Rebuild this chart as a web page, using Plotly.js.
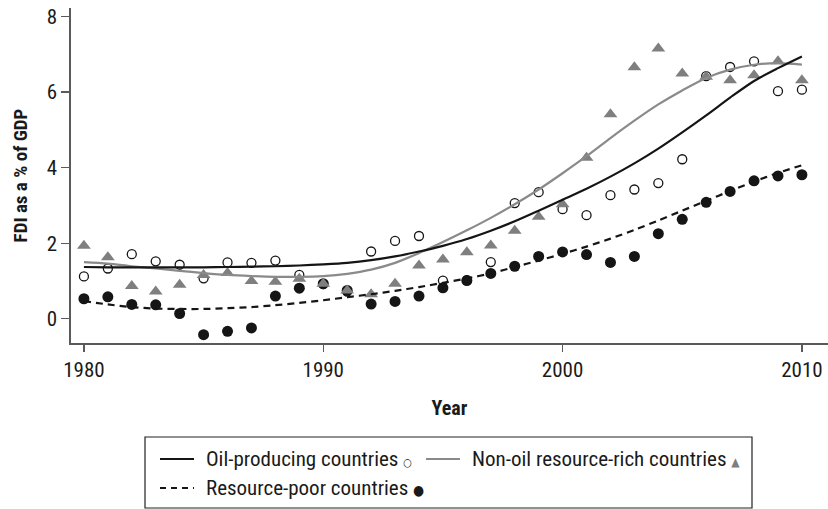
<!DOCTYPE html>
<html>
<head>
<meta charset="utf-8">
<script src="https://cdn.plot.ly/plotly-3.0.1.min.js"></script>
<style>
  html, body { margin: 0; padding: 0; background: #fff; }
  #chart { width: 828px; height: 509px; }
</style>
</head>
<body>
<div id="chart"></div>
<script>
// ---- data ----
const years = [1980,1981,1982,1983,1984,1985,1986,1987,1988,1989,
               1990,1991,1992,1993,1994,1995,1996,1997,1998,1999,
               2000,2001,2002,2003,2004,2005,2006,2007,2008,2009,2010];

const oilObs = [1.12,1.33,1.71,1.52,1.43,1.07,1.49,1.48,1.54,1.16,
                0.92,0.72,1.78,2.06,2.19,1.01,1.02,1.50,3.06,3.35,
                2.90,2.74,3.27,3.42,3.59,4.22,6.42,6.66,6.81,6.02,6.06];

const nonOilObs = [1.93,1.63,0.87,0.72,0.90,1.16,1.21,1.00,0.98,1.06,
                   0.93,0.75,0.65,0.93,1.41,1.57,1.76,1.94,2.33,2.70,
                   3.03,4.26,5.41,6.65,7.15,6.49,6.40,6.31,6.44,6.81,6.31];

const poorObs = [0.53,0.58,0.38,0.37,0.14,-0.42,-0.33,-0.24,0.60,0.81,
                 0.93,0.75,0.39,0.46,0.60,0.82,1.01,1.20,1.39,1.65,
                 1.77,1.70,1.49,1.65,2.25,2.63,3.08,3.37,3.65,3.78,3.81];

const oilFit = [1.37,1.36,1.36,1.36,1.36,1.36,1.37,1.38,1.39,1.41,
                1.44,1.48,1.55,1.65,1.78,1.93,2.11,2.33,2.58,2.86,
                3.15,3.44,3.76,4.11,4.50,4.93,5.38,5.85,6.29,6.63,6.94];

const nonOilFit = [1.50,1.46,1.39,1.33,1.27,1.21,1.16,1.13,1.11,1.11,
                   1.13,1.19,1.30,1.48,1.74,2.03,2.34,2.67,3.03,3.42,
                   3.85,4.30,4.78,5.24,5.67,6.04,6.37,6.59,6.72,6.76,6.72];

const poorFit = [0.47,0.38,0.31,0.27,0.26,0.26,0.28,0.31,0.36,0.42,
                 0.49,0.57,0.65,0.74,0.84,0.95,1.07,1.20,1.37,1.54,
                 1.72,1.91,2.12,2.35,2.60,2.86,3.12,3.38,3.63,3.86,4.06];

const xTickVals = [1980, 1990, 2000, 2010];
const yTickVals = [0, 2, 4, 6, 8];

const seriesNames = ['Oil-producing countries', 'Non-oil resource-rich countries', 'Resource-poor countries'];
const xTitle = 'Year';
const yTitle = 'FDI as a % of GDP';

// ---- styling ----
const FONT = '"Liberation Sans Narrow", "Arial Narrow", "Roboto Condensed", "DejaVu Sans Condensed", sans-serif';
const BLACK = '#151515';
const GREY = '#8a8a8a';
const TRI = '#7f7f7f';
const AXIS = '#5a5a5a';
const TXT = '#1a1a1a';

const traces = [
  { x: years, y: poorObs, type: 'scatter', mode: 'markers', showlegend: false,
    marker: { symbol: 'circle', size: 11, color: BLACK, line: { width: 0 } } },
  { x: years, y: oilObs, type: 'scatter', mode: 'markers', showlegend: false,
    marker: { symbol: 'circle-open', size: 9, color: BLACK, line: { width: 1.3, color: BLACK } } },
  { x: years, y: nonOilObs, type: 'scatter', mode: 'markers', showlegend: false,
    marker: { symbol: 'triangle-up', size: 12, color: TRI, line: { width: 0 } } },
  { x: years, y: poorFit, type: 'scatter', mode: 'lines', showlegend: false,
    line: { color: BLACK, width: 2.2, dash: '7px,5px', shape: 'spline', smoothing: 0.8 } },
  { x: years, y: nonOilFit, type: 'scatter', mode: 'lines', showlegend: false,
    line: { color: GREY, width: 2.2, shape: 'spline', smoothing: 0.8 } },
  { x: years, y: oilFit, type: 'scatter', mode: 'lines', showlegend: false,
    line: { color: BLACK, width: 2.2, shape: 'spline', smoothing: 0.8 } }
];

// pixel -> paper helpers for the hand-built legend (plot area: x 71..828, y 8..343)
const L = 71, R = 828, T = 8, B = 343;
const px = x => (x - L) / (R - L);
const py = y => (B - y) / (B - T);

const row1 = 459, row2 = 488;
const shapes = [
  { type: 'rect', xref: 'paper', yref: 'paper', x0: px(145), x1: px(752), y0: py(437), y1: py(508),
    line: { color: '#222', width: 1.2 }, fillcolor: 'rgba(0,0,0,0)' },
  { type: 'line', xref: 'paper', yref: 'paper', x0: px(160), x1: px(194), y0: py(row1), y1: py(row1),
    line: { color: BLACK, width: 2.2 } },
  { type: 'line', xref: 'paper', yref: 'paper', x0: px(426), x1: px(460), y0: py(row1), y1: py(row1),
    line: { color: GREY, width: 2.2 } },
  { type: 'line', xref: 'paper', yref: 'paper', x0: px(160), x1: px(194), y0: py(row2), y1: py(row2),
    line: { color: BLACK, width: 2.2, dash: '6px,5px' } }
];

const legFont = { family: FONT, size: 21, color: TXT };
const annotations = [
  { xref: 'paper', yref: 'paper', x: px(204), y: py(row1), xanchor: 'left', yanchor: 'middle', showarrow: false,
    font: legFont, text: seriesNames[0] + ' <span style="font-size:11px">○</span>' },
  { xref: 'paper', yref: 'paper', x: px(470), y: py(row1), xanchor: 'left', yanchor: 'middle', showarrow: false,
    font: legFont, text: seriesNames[1] + ' <span style="font-size:12px;fill:' + TRI + '">▲</span>' },
  { xref: 'paper', yref: 'paper', x: px(204), y: py(row2), xanchor: 'left', yanchor: 'middle', showarrow: false,
    font: legFont, text: seriesNames[2] + ' <span style="font-size:14px">●</span>' }
];

const layout = {
  width: 828, height: 509,
  margin: { l: L, r: 828 - R, t: T, b: 509 - B, pad: 0 },
  paper_bgcolor: '#fff', plot_bgcolor: '#fff',
  font: { family: FONT, size: 21, color: TXT },
  showlegend: false,
  xaxis: {
    range: [1979.46, 2011.09], tickvals: xTickVals, ticktext: xTickVals.map(String),
    showgrid: false, zeroline: false, showline: true, linecolor: AXIS, linewidth: 1.6,
    ticks: 'outside', ticklen: 7, tickwidth: 1.2, tickcolor: AXIS,
    tickfont: { family: FONT, size: 21, color: TXT },
    title: { text: '<b>' + xTitle + '</b>', font: { family: FONT, size: 20, color: TXT }, standoff: 20 }
  },
  yaxis: {
    range: [-0.64, 8.22], tickvals: yTickVals, ticktext: yTickVals.map(String),
    showgrid: false, zeroline: false, showline: true, linecolor: AXIS, linewidth: 1.6,
    ticks: 'outside', ticklen: 8, tickwidth: 1.2, tickcolor: AXIS,
    tickfont: { family: FONT, size: 21, color: TXT },
    title: { text: '<b>' + yTitle + '</b>', font: { family: FONT, size: 19, color: TXT }, standoff: 14 }
  },
  shapes: shapes,
  annotations: annotations
};

Plotly.newPlot('chart', traces, layout, { displayModeBar: false, staticPlot: true });
</script>
</body>
</html>
